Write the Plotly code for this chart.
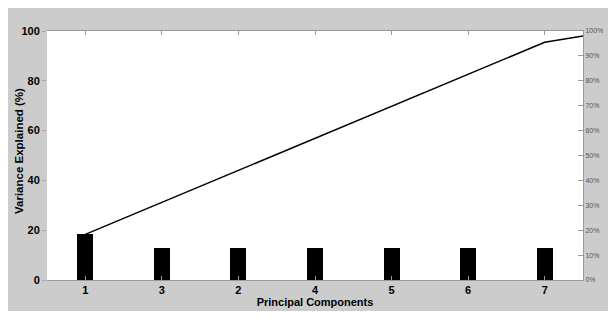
import plotly.graph_objects as go

categories = ["1", "3", "2", "4", "5", "6", "7"]
variance = [18.3, 13.0, 13.0, 13.0, 13.0, 13.0, 12.7]
cumulative = [18.3, 31.2, 44.0, 57.0, 70.0, 82.7, 95.5]
tail_value = 98.0  # line continues to the right frame edge
y_ticks = [0, 20, 40, 60, 80, 100]
pct_ticks = list(range(0, 101, 10))

xpos = list(range(len(categories)))
FONT = "Liberation Sans, Arial, sans-serif"

fig = go.Figure()
fig.add_trace(go.Bar(x=xpos, y=variance, marker=dict(color="black", line=dict(width=0)),
                     width=0.21, yaxis="y", showlegend=False))
fig.add_trace(go.Scatter(x=xpos + [len(categories) - 0.5], y=cumulative + [tail_value],
                         mode="lines", line=dict(color="black", width=1.5),
                         yaxis="y2", showlegend=False))

L, R, T, B = 47, 33, 31, 41
W, H = 616, 321
pw, ph = W - L - R, H - T - B

def px_x(p):
    return (p - L) / pw

def px_y(p):
    return (H - B - p) / ph

title_font = dict(size=11, color="black", family=FONT, weight="bold")

fig.update_layout(
    template="none",
    width=W, height=H,
    margin=dict(l=L, r=R, t=T, b=B),
    paper_bgcolor="white",
    plot_bgcolor="rgba(0,0,0,0)",
    font=dict(family=FONT),
    bargap=0,
    shapes=[
        dict(type="rect", xref="paper", yref="paper", layer="below",
             x0=px_x(8), x1=px_x(608), y0=px_y(311), y1=px_y(8),
             fillcolor="#cccccc", line=dict(width=0)),
        dict(type="rect", xref="paper", yref="paper", layer="below",
             x0=0, x1=1, y0=0, y1=1, fillcolor="white", line=dict(width=0)),
    ],
    annotations=[
        dict(text="Variance Explained (%)", xref="paper", yref="paper",
             x=px_x(19), y=px_y(151), xanchor="center", yanchor="middle",
             textangle=-90, showarrow=False,
             font=dict(size=11.5, color="black", family=FONT, weight="bold")),
    ],
    xaxis=dict(
        automargin=False,
        range=[-0.5, len(categories) - 0.5],
        tickmode="array", tickvals=xpos, ticktext=categories,
        ticks="inside", ticklen=4, tickcolor="#999999",
        showline=True, linecolor="#999999", linewidth=1, mirror="ticks",
        showgrid=False, zeroline=False,
        tickfont=dict(size=11, color="black", family=FONT, weight="bold"),
        title=dict(text="Principal Components", standoff=1, font=title_font),
    ),
    yaxis=dict(
        automargin=False,
        range=[0, 100], tickmode="array", tickvals=y_ticks,
        ticks="outside", ticklen=4, tickcolor="#aaaaaa",
        showline=False, showgrid=False, zeroline=False,
        tickfont=dict(size=11, color="black", family=FONT, weight="bold"),
    ),
    yaxis2=dict(
        automargin=False,
        range=[0, 100], overlaying="y", side="right",
        tickmode="array", tickvals=pct_ticks, ticktext=[f"{v}%" for v in pct_ticks],
        ticks="inside", ticklen=5, tickcolor="#999999",
        showline=True, linecolor="#999999", linewidth=1,
        showgrid=False, zeroline=False,
        tickfont=dict(size=7, color="#555555", family=FONT),
    ),
)

fig.write_html("out.html")
